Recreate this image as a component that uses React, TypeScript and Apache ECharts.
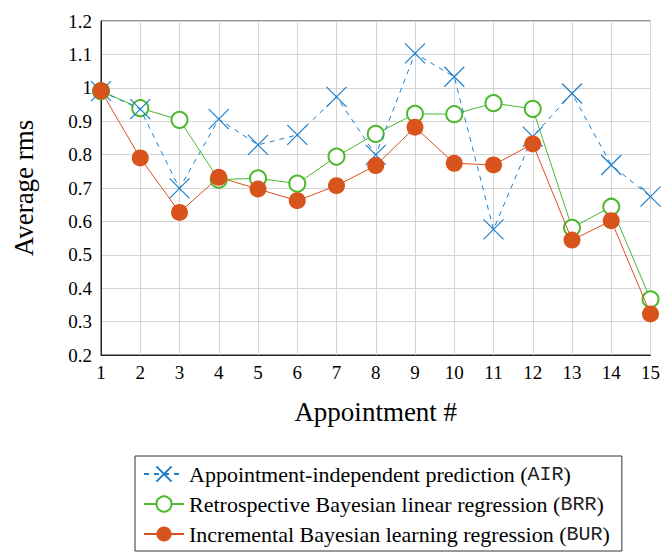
import React, { useEffect, useRef } from "react";
import * as echarts from "echarts";

const appointments = ["1", "2", "3", "4", "5", "6", "7", "8", "9", "10", "11", "12", "13", "14", "15"];
const airValues = [0.99, 0.936, 0.699, 0.906, 0.829, 0.859, 0.973, 0.799, 1.103, 1.033, 0.576, 0.854, 0.983, 0.769, 0.674];
const brrValues = [0.99, 0.939, 0.904, 0.725, 0.729, 0.713, 0.794, 0.862, 0.922, 0.921, 0.954, 0.937, 0.581, 0.644, 0.367];
const burValues = [0.991, 0.79, 0.627, 0.732, 0.697, 0.662, 0.707, 0.767, 0.882, 0.774, 0.769, 0.832, 0.544, 0.602, 0.323];

const seriesNames = [
  "Appointment-independent prediction ({m|AIR})",
  "Retrospective Bayesian linear regression ({m|BRR})",
  "Incremental Bayesian learning regression ({m|BUR})",
];

const BLUE = "#1b7fcc";
const GREEN = "#4bb82e";
const ORANGE = "#d9531c";
const SERIF = "Liberation Serif";
const MONO = "Liberation Mono";

export default function App() {
  const ref = useRef<HTMLDivElement>(null);

  useEffect(() => {
    if (!ref.current) return;
    const chart = echarts.init(ref.current, null, { renderer: "svg" });
    chart.setOption({
      animation: false,
      backgroundColor: "#ffffff",
      textStyle: { fontFamily: SERIF },
      grid: {
        left: 101,
        right: 11,
        top: 21,
        bottom: 197,
        show: true,
        borderColor: "#222",
        borderWidth: 1,
      },
      xAxis: {
        type: "category",
        data: appointments,
        boundaryGap: false,
        name: "Appointment #",
        nameLocation: "middle",
        nameGap: 43,
        nameTextStyle: { fontFamily: SERIF, fontSize: 27, color: "#000" },
        axisLine: { show: true, lineStyle: { color: "#222", width: 1 } },
        axisTick: { show: false },
        axisLabel: { fontFamily: SERIF, fontSize: 19, color: "#000", margin: 8 },
        splitLine: { show: true, lineStyle: { color: "#d4d4d4", width: 1 } },
      },
      yAxis: {
        type: "value",
        min: 0.2,
        max: 1.2,
        interval: 0.1,
        name: "Average rms",
        nameLocation: "middle",
        nameGap: 64,
        nameRotate: 90,
        nameTextStyle: { fontFamily: SERIF, fontSize: 27, color: "#000" },
        axisLine: { show: true, lineStyle: { color: "#222", width: 1 } },
        axisTick: { show: false },
        axisLabel: {
          fontFamily: SERIF,
          fontSize: 19,
          color: "#000",
          margin: 9,
          formatter: (v: number) => String(+v.toFixed(1)),
        },
        splitLine: { show: true, lineStyle: { color: "#d4d4d4", width: 1 } },
      },
      legend: {
        orient: "vertical",
        left: 135,
        top: 456,
        padding: [7, 12, 6, 8],
        itemGap: 8,
        itemWidth: 40,
        itemHeight: 19,
        borderColor: "#333",
        borderWidth: 1,
        borderRadius: 0,
        textStyle: {
          fontFamily: SERIF,
          fontSize: 22,
          color: "#000",
          rich: {
            m: { fontFamily: MONO, fontSize: 20, color: "#222" },
          },
        },
        data: seriesNames,
      },
      series: [
        {
          name: seriesNames[0],
          type: "line",
          data: airValues,
          symbol: "path://M0,0L10,10M10,0L0,10",
          symbolSize: 20,
          lineStyle: { color: BLUE, width: 1, type: [5, 5] },
          itemStyle: { color: BLUE, borderColor: BLUE, borderWidth: 1.2 },
          z: 3,
        },
        {
          name: seriesNames[1],
          type: "line",
          data: brrValues,
          symbol: "emptyCircle",
          symbolSize: 16,
          lineStyle: { color: GREEN, width: 1 },
          itemStyle: { color: GREEN, borderColor: GREEN, borderWidth: 1.1 },
          z: 2,
        },
        {
          name: seriesNames[2],
          type: "line",
          data: burValues,
          symbol: "circle",
          symbolSize: 17,
          lineStyle: { color: ORANGE, width: 1 },
          itemStyle: { color: ORANGE },
          z: 4,
        },
      ],
    });
    return () => chart.dispose();
  }, []);

  return <div ref={ref} style={{ width: 663, height: 552, position: "absolute", left: 0, top: 0 }} />;
}
